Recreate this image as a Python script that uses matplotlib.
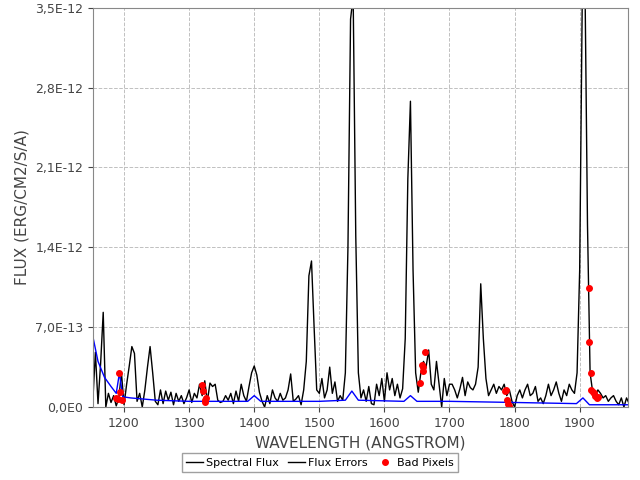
import numpy as np
import matplotlib
matplotlib.use('Agg'); import matplotlib.pyplot as plt
from matplotlib.lines import Line2D

# flux in units of 1e-13, sampled every 4 A from 1152
wave = np.arange(1152, 1977, 4)
flux = [0.5,4.8,0.3,3.8,8.3,0.0,1.2,0.4,1.0,0.1,0.8,3.0,0.2,
        2.0,3.6,5.3,4.7,0.5,1.2,0.0,1.5,3.5,5.3,3.0,0.5,
        0.2,1.5,0.3,1.4,0.6,1.3,0.2,1.2,0.5,1.0,0.3,0.8,1.5,
        0.4,1.2,0.8,2.0,1.0,2.3,0.5,2.1,1.8,2.0,0.6,0.4,
        0.5,1.0,0.6,1.2,0.3,1.4,0.5,2.0,1.0,0.5,1.8,3.0,3.6,
        2.8,1.3,0.5,0.0,1.0,0.3,1.5,0.8,0.5,1.2,0.6,0.8,
        1.5,2.9,0.5,0.7,1.0,0.2,1.5,4.0,11.5,12.8,7.0,1.5,1.2,
        2.5,0.8,1.5,3.5,1.2,2.2,0.5,1.0,0.6,3.0,14.0,34.0,
        36.0,15.0,3.0,0.8,1.5,0.5,1.8,0.3,0.2,2.0,1.0,2.5,0.5,
        3.0,1.5,2.5,1.0,2.0,0.8,1.6,6.0,20.0,26.8,12.0,3.0,
        1.3,3.0,4.0,3.5,5.0,2.0,1.5,4.0,2.0,0.0,2.5,1.0,2.0,
        2.0,1.5,0.8,1.6,2.6,1.0,2.2,1.7,1.5,2.0,3.5,10.8,
        6.0,2.5,1.0,1.5,2.0,1.2,1.8,1.5,2.0,1.0,1.5,0.5,0.0,
        1.0,1.5,0.8,1.5,2.0,1.0,1.2,1.8,0.5,0.8,0.3,1.0,
        2.0,1.0,1.5,2.2,1.2,0.5,1.5,1.0,2.0,1.5,1.2,3.0,12.0,
        36.0,38.0,16.0,3.0,1.3,1.0,1.5,1.2,0.8,1.0,0.5,0.8,
        1.0,0.5,0.2,0.8,0.0,0.8,0.3]

err_wave = [1152,1160,1170,1180,1188,1193,1198,1210,1250,1300,1390,1400,1410,1500,1540,1550,1560,
            1630,1640,1650,1700,1800,1895,1905,1915,1976]
err = [6.2,4.0,2.6,1.8,1.2,3.0,0.9,0.8,0.6,0.5,0.5,1.0,0.5,0.5,0.6,1.4,0.6,
       0.5,1.0,0.5,0.5,0.4,0.3,0.8,0.2,0.2]

bad_wave = [1188,1190,1192,1194,1197,1320,1322,1324,1325,1326,1655,1658,1659,1660,1662,
            1785,1787,1789,1790,1792,1914,1915,1917,1918,1920,1922,1924,1926,1928]
bad_flux = [0.8,0.7,3.0,1.3,0.6,1.9,1.4,0.6,0.4,0.8,2.1,3.7,3.5,3.2,4.8,
            1.4,1.5,0.6,0.3,0.1,10.4,5.7,3.0,1.5,1.3,1.2,1.0,0.8,0.9]

fig = plt.figure(figsize=(6.4, 4.8), dpi=100)
ax = fig.add_axes([0.145, 0.152, 0.836, 0.832])
ax.plot(wave, np.array(flux)*1e-13, color='black', lw=1)
ax.plot(err_wave, np.array(err)*1e-13, color='blue', lw=1)
ax.plot(bad_wave, np.array(bad_flux)*1e-13, 'o', color='red', ms=4, ls='none')
ax.set_xlim(1152, 1974); ax.set_ylim(0, 3.5e-12)
ax.set_xticks([1200,1300,1400,1500,1600,1700,1800,1900])
yt = np.arange(0, 3.51e-12, 0.7e-12)
ax.set_yticks(yt)
ax.set_yticklabels(['0,0E0','7,0E-13','1,4E-12','2,1E-12','2,8E-12','3,5E-12'])
ax.grid(color='#c0c0c0', ls='--', lw=0.7)
ax.tick_params(labelsize=9, colors='#444444')
for s in ax.spines.values(): s.set_color('#888888')
ax.set_xlabel('WAVELENGTH (ANGSTROM)', fontsize=11, color='#444444')
ax.set_ylabel('FLUX (ERG/CM2/S/A)', fontsize=11, color='#444444')
handles = [Line2D([], [], color='black', lw=1), Line2D([], [], color='black', lw=1),
           Line2D([], [], color='red', marker='o', ls='none', ms=4)]
fig.legend(handles, ['Spectral Flux','Flux Errors','Bad Pixels'], loc='lower center',
           bbox_to_anchor=(0.5, 0.005), ncol=3, fontsize=8, frameon=True, fancybox=False,
           edgecolor='#888888', handlelength=1.5, columnspacing=0.8, handletextpad=0.3)
plt.savefig('out.png', dpi=100)
